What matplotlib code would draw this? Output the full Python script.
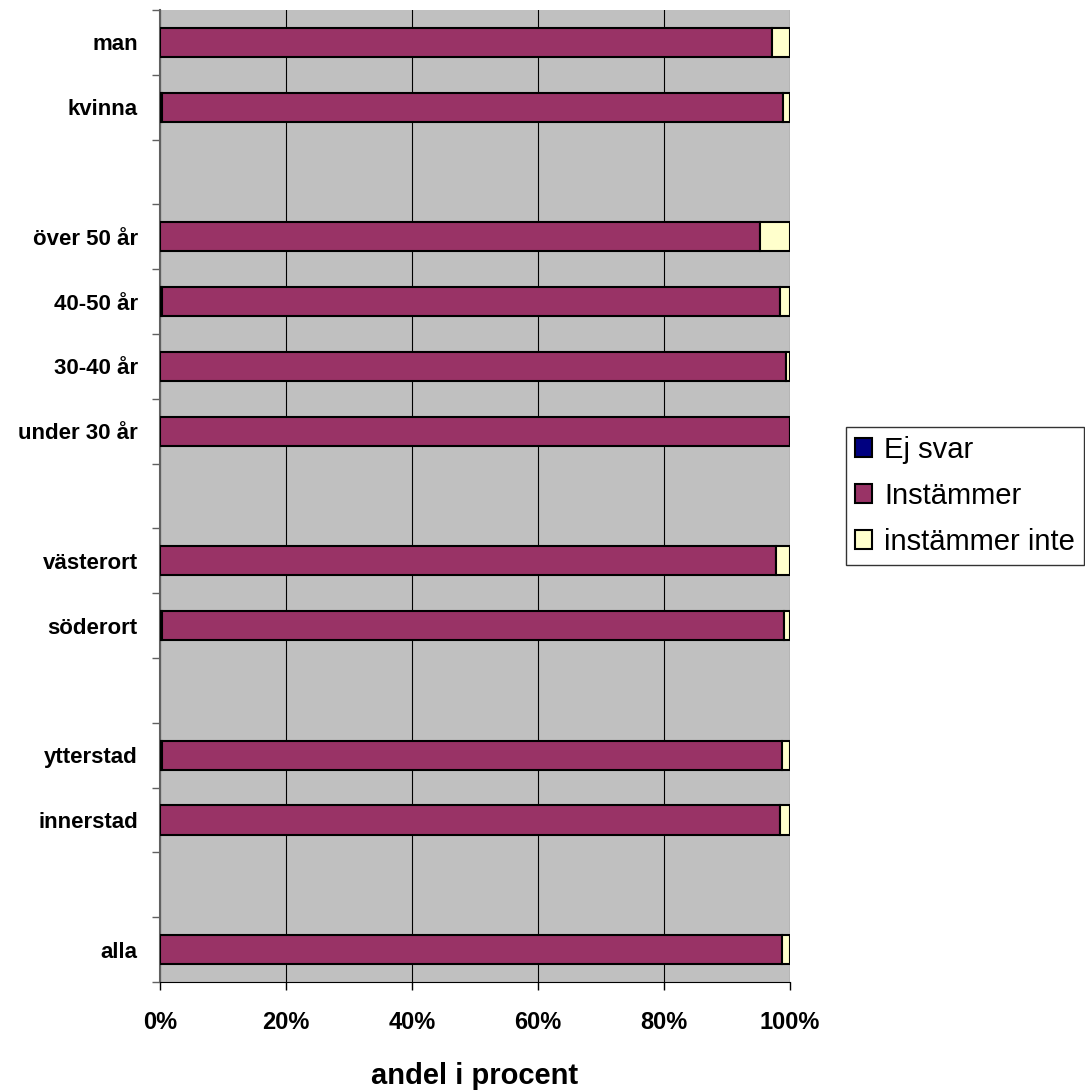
import matplotlib.pyplot as plt
import numpy as np

plt.rcParams['font.family'] = ['Liberation Sans', 'DejaVu Sans']

# slots from bottom to top, '' = empty gap
categories = ['alla', '', 'innerstad', 'ytterstad', '', 'söderort', 'västerort', '',
              'under 30 år', '30-40 år', '40-50 år', 'över 50 år', '', 'kvinna', 'man']
ej_svar = [0.0, 0, 0.0, 0.3, 0, 0.3, 0.0, 0, 0.0, 0.0, 0.3, 0.0, 0, 0.3, 0.0]
instammer = [98.7, 0, 98.4, 98.4, 0, 98.7, 97.8, 0, 100.0, 99.4, 98.1, 95.2, 0, 98.6, 97.1]
instammer_inte = [1.3, 0, 1.6, 1.3, 0, 1.0, 2.2, 0, 0.0, 0.6, 1.6, 4.8, 0, 1.1, 2.9]
series_names = ['Ej svar', 'Instämmer', 'instämmer inte']
colors = ['#000080', '#993366', '#FFFFCC']

fig = plt.figure(figsize=(10.85, 10.91), dpi=100)
ax = fig.add_axes([0.1475, 0.0999, 0.5806, 0.8909])
ax.set_facecolor('#C0C0C0')

y = np.arange(len(categories))
mask = np.array([c != '' for c in categories])
left = np.zeros(len(categories))
for vals, name, col in zip([ej_svar, instammer, instammer_inte], series_names, colors):
    vals = np.array(vals)
    ax.barh(y[mask], vals[mask], left=left[mask], height=0.45, color=col,
            edgecolor='black', linewidth=1.5, label=name, zorder=3)
    left += vals

ax.set_xlim(0, 100)
ax.set_ylim(-0.5, len(categories) - 0.5)
ax.set_xticks([0, 20, 40, 60, 80, 100])
ax.set_xticklabels(['0%', '20%', '40%', '60%', '80%', '100%'], fontsize=17, fontweight='bold')
ax.tick_params(axis='x', length=6, width=1, pad=15, colors='black')
ax.set_yticks(y[mask])
ax.set_yticklabels([c for c in categories if c], fontsize=16, fontweight='bold')
ax.set_yticks(np.arange(-0.5, len(categories)), minor=True)
ax.tick_params(axis='y', which='major', length=0, pad=16)
ax.tick_params(axis='y', which='minor', length=6, width=1, color='#606060')
ax.grid(axis='x', color='black', linewidth=0.8, zorder=1)
ax.set_axisbelow(True)
for s in ['top', 'right']:
    ax.spines[s].set_visible(False)
ax.spines['left'].set_color('#606060')
ax.spines['left'].set_linewidth(1.5)
ax.spines['bottom'].set_color('black')
ax.set_xlabel('andel i procent', fontsize=21, fontweight='bold', labelpad=20)

leg = ax.legend(loc='upper left', bbox_to_anchor=(1.089, 0.571), fontsize=21,
                frameon=True, fancybox=False, edgecolor='black', handlelength=0.6,
                handleheight=0.6, handletextpad=0.4, borderpad=0.3, labelspacing=0.62,
                borderaxespad=0)
leg.get_frame().set_linewidth(1)

plt.savefig('out.png')
